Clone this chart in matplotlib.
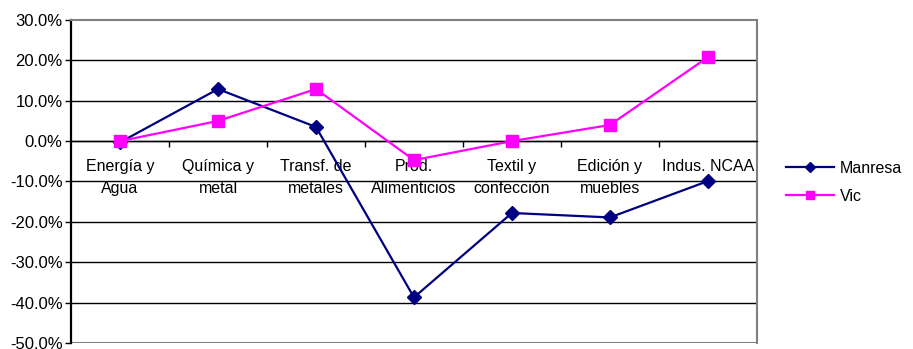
import matplotlib.pyplot as plt
from matplotlib.ticker import FuncFormatter, FixedLocator

plt.rcParams["font.family"] = ["Liberation Sans", "DejaVu Sans"]

categories = ["Energía y\nAgua", "Química y\nmetal", "Transf. de\nmetales", "Prod.\nAlimenticios",
              "Textil y\nconfección", "Edición y\nmuebles", "Indus. NCAA"]
manresa = [-0.3, 12.9, 3.5, -38.7, -17.8, -18.9, -9.9]
vic = [0.0, 5.0, 12.9, -4.7, 0.0, 4.0, 20.8]
y_ticks = [-50, -40, -30, -20, -10, 0, 10, 20, 30]

fig = plt.figure(figsize=(9.13, 3.49), dpi=100)
ax = fig.add_axes([0.0778, 0.0172, 0.7512, 0.9255])

x = list(range(len(categories)))
ax.plot(x, manresa, color="#000080", marker="D", markersize=7, linewidth=1.6, label="Manresa", zorder=3)
ax.plot(x, vic, color="#FF00FF", marker="s", markersize=8, linewidth=1.6, label="Vic", zorder=3)

ax.set_xlim(-0.5, len(categories) - 0.5)
ax.set_ylim(-50, 30)

# gridlines
for v in y_ticks[1:-1]:
    ax.axhline(v, color="black", linewidth=1.0, zorder=1)
ax.axhline(-50, color="#808080", linewidth=1.5, zorder=1)

ax.spines["top"].set_color("#808080")
ax.spines["right"].set_color("#808080")
ax.spines["top"].set_linewidth(1.5)
ax.spines["right"].set_linewidth(1.5)
ax.spines["left"].set_linewidth(1.6)
ax.spines["bottom"].set_position(("data", 0))
ax.spines["bottom"].set_linewidth(1.0)

ax.yaxis.set_major_locator(FixedLocator(y_ticks))
ax.yaxis.set_major_formatter(FuncFormatter(lambda v, p: f"{v:.1f}%"))
ax.tick_params(axis="y", direction="out", length=4, width=1, labelsize=12, pad=2)

ax.set_xticks(x)
ax.set_xticklabels(categories, linespacing=1.55)
ax.set_xticks([i + 0.5 for i in x[:-1]], minor=True)
ax.tick_params(axis="x", which="major", length=0, labelsize=11.5, pad=13)
ax.tick_params(axis="x", which="minor", direction="out", length=4, width=1)
for lbl in ax.get_xticklabels():
    lbl.set_verticalalignment("top")

leg = ax.legend(loc="center left", bbox_to_anchor=(0.849, 0.478), bbox_transform=fig.transFigure,
                frameon=False, fontsize=11.5, handlelength=3.0, handletextpad=0.35, labelspacing=0.8,
                borderpad=0.2, markerscale=0.75)

fig.savefig("out.png", dpi=100)
